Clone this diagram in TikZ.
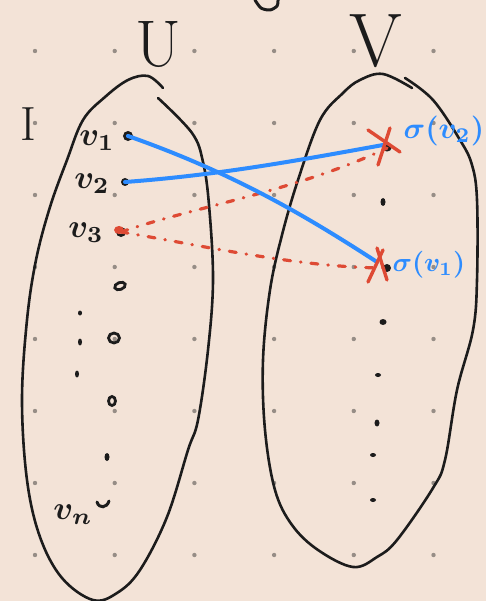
\documentclass[tikz,border=0pt]{standalone}
\usepackage{amsmath,amssymb}
\usepackage{xcolor}
\usetikzlibrary{calc,positioning,shapes.geometric}
\definecolor{skPaper}{RGB}{243,227,215}
\definecolor{skInk}{RGB}{28,28,28}
\definecolor{skBlue}{RGB}{45,140,255}
\definecolor{skRed}{RGB}{222,74,52}
\definecolor{skgray}{RGB}{150,141,134}

\begin{document}
\begin{tikzpicture}[x=1pt,y=-1pt,
  blob/.style={skInk, line width=2.6pt, line cap=round, line join=round},
  vmark/.style={ellipse, fill=skInk, inner sep=0pt, minimum width=7pt, minimum height=6pt},
  vring/.style={ellipse, draw=skInk, line width=2.8pt, inner sep=0pt, minimum width=7pt, minimum height=7pt},
  match/.style={skBlue, line width=4pt, line cap=round},
  cand/.style={skRed, line width=3.2pt, line cap=round, dash pattern=on 7pt off 10pt on 0.5pt off 10pt},
  cross/.style={skRed, line width=3.4pt, line cap=round},
  lbl/.style={text=skInk, inner sep=0pt},
  vlbl/.style={lbl, font=\boldmath, scale=3.3},
  blbl/.style={text=skBlue, inner sep=0pt, anchor=west, font=\boldmath, scale=3}]
\useasboundingbox (0,0) rectangle (486,601);
\clip (0,0) rectangle (486,601);
\fill[skPaper] (0,0) rectangle (486,601);

\foreach \i in {0,...,5}
  \foreach \j in {0,...,7}
    \fill[skgray] (35+79.7*\i, 51+72*\j) circle (2.2pt);

\draw[skInk, line width=3pt, line cap=round] plot[smooth] coordinates {(255,0) (261,8) (270,10) (277,6) (278,0)};

\draw[blob] plot[smooth, tension=0.6] coordinates {(163,88) (148,76) (128,80) (105,97) (83,120) (67,160) (50,207) (36,260) (27,320) (22,400) (27,480) (40,537) (62,578) (93,600) (117,593) (140,570) (167,517) (188,450) (198,420) (208,350) (213,280) (209,205) (203,162) (192,133) (158,98)};
\draw[blob] plot[smooth, tension=0.6] coordinates {(412,88) (383,74) (360,80) (343,93) (320,120) (298,180) (282,235) (270,290) (263,360) (265,430) (275,490) (292,525) (318,550) (353,567) (377,557) (397,540) (433,488) (445,460) (457,390) (473,330) (477,280) (477,200) (472,165) (460,140) (433,100) (405,78)};

\node[lbl, font=\fontsize{66}{66}\selectfont] (U) at (158,44) {U};
\node[lbl, font=\fontsize{76}{76}\selectfont] (V) at (376,41) {V};
\node[lbl, font=\fontsize{48}{48}\selectfont] (I) at (28,124) {I};

\node[vring] (u1) at (128,136) {};
\node[vmark, minimum width=8pt, minimum height=8pt] (u2) at (125,182) {};
\node[vring] (u3) at (121,232) {};
\node[vring, minimum width=11pt, minimum height=7pt, rotate=20] (u4) at (120,286) {};
\node[vring, minimum width=11pt, minimum height=10pt] (u5) at (114,338) {};
\node[vring, minimum width=7pt, minimum height=9pt] (u6) at (112,401) {};
\node[vmark, minimum width=5pt, minimum height=8pt] (u7) at (107,457) {};
\node[inner sep=0pt] (un) at (103,504) {};
\draw[skInk, line width=3pt, line cap=round] ($(un)+(-6,-2)$) .. controls ($(un)+(-4,5)$) and ($(un)+(4,4)$) .. ($(un)+(6,-3)$);
\node[vmark, minimum width=4pt, minimum height=5pt] (e1) at (80,313) {};
\node[vmark, minimum width=4pt, minimum height=7pt] (e2) at (80,342) {};
\node[vmark, minimum width=4pt, minimum height=7pt] (e3) at (77,374) {};

\node[vlbl] (l1) at (97,141) {$v_1$};
\node[vlbl] (l2) at (92,184) {$v_2$};
\node[vlbl] (l3) at (86,233) {$v_3$};
\node[vlbl] (ln) at (73,515) {$v_n$};

\node[vmark, minimum width=9pt, minimum height=7pt] (s2) at (387,148) {};
\node[vmark, minimum width=5pt, minimum height=8pt] (w2) at (383,202) {};
\node[vmark, minimum width=8pt, minimum height=8pt] (s1) at (387,268) {};
\node[vmark, minimum width=7pt, minimum height=6pt] (w4) at (383,322) {};
\node[vmark, minimum width=6pt, minimum height=4pt] (w5) at (378,375) {};
\node[vmark, minimum width=5pt, minimum height=7pt] (w6) at (377,423) {};
\node[vmark, minimum width=6pt, minimum height=4pt] (w7) at (373,455) {};
\node[vmark, minimum width=6pt, minimum height=4pt] (w8) at (373,500) {};

\fill[skRed] (119,230) ellipse (5pt and 4pt);
\draw[cand] (u3.center) .. controls (190,208) and (300,190) .. (s2.center);
\draw[cand] (u3.center) .. controls (200,245) and (300,268) .. (s1.center);

\draw[match] (u1.center) .. controls (230,172) and (300,212) .. ($(s1)+(-10,-6)$);
\draw[match] (u2.center) .. controls (220,175) and (300,160) .. ($(s2)+(-4,-3)$);

\draw[cross] ($(s2)+(-19,-18)$) -- ($(s2)+(13,4)$);
\draw[cross] ($(s2)+(3,-20)$) -- ($(s2)+(-9,17)$);
\draw[cross] ($(s1)+(-10,-20)$) -- ($(s1)+(0,12)$);
\draw[cross] ($(s1)+(-4,-18)$) -- ($(s1)+(-19,14)$);

\node[blbl] (t2) at (403,131) {$\sigma(v_2)$};
\node[blbl, scale=0.9] (t1) at (392,265) {$\sigma(v_1)$};
\end{tikzpicture}
\end{document}
